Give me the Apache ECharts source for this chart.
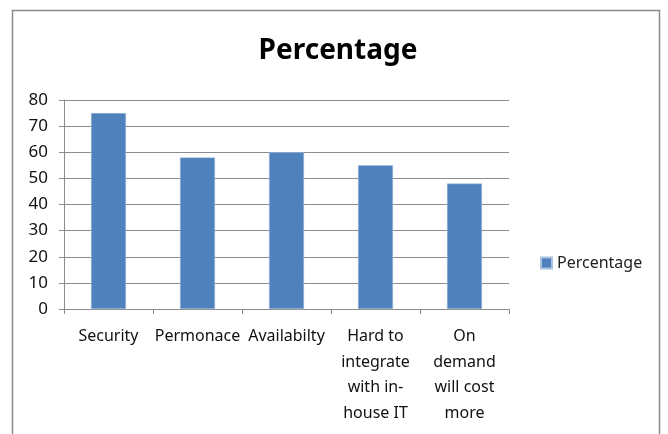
<!DOCTYPE html>
<html><head><meta charset="utf-8">
<script src="https://cdn.jsdelivr.net/npm/echarts@6/dist/echarts.min.js"></script>
<style>html,body{margin:0;padding:0;background:#fff}#c{width:668px;height:434px}</style>
</head><body><div id="c"></div>
<script>
const categories = ["Security", "Permonace", "Availabilty", "Hard to\nintegrate\nwith in-\nhouse IT", "On\ndemand\nwill cost\nmore"];
const percentage = [75, 58, 60, 55, 48];
const yTicks = [0, 10, 20, 30, 40, 50, 60, 70, 80];
const seriesName = "Percentage";
const titleText = "Percentage";

const chart = echarts.init(document.getElementById('c'), null, {renderer: 'canvas'});
const font = "'Noto Sans', sans-serif";
chart.setOption({
  animation: false,
  title: {text: titleText, left: 338, top: 37, padding: 0, textAlign: 'center',
    textStyle: {fontFamily: font, fontSize: 28, fontWeight: 'bold', color: '#000'}},
  graphic: [{type: 'rect', shape: {x: 12.5, y: 10.5, width: 647, height: 440},
    style: {fill: 'none', stroke: '#8a8a8a', lineWidth: 1.5}, silent: true}],
  legend: {data: [seriesName], left: 535, top: 250, itemWidth: 11, itemHeight: 11, itemGap: 4,
    icon: 'rect', textStyle: {fontFamily: font, fontSize: 16, color: '#222'}},
  grid: {left: 64, right: 159, top: 100, bottom: 125, containLabel: false},
  xAxis: {type: 'category', data: categories,
    axisLine: {lineStyle: {color: '#8c8c8c', width: 1}},
    axisTick: {show: true, length: 5, alignWithLabel: false, lineStyle: {color: '#8c8c8c'}},
    axisLabel: {interval: 0, fontFamily: font, fontSize: 16, color: '#111', lineHeight: 25.5, margin: 15}},
  yAxis: {type: 'value', min: yTicks[0], max: yTicks[yTicks.length - 1], interval: 10,
    axisLine: {show: true, lineStyle: {color: '#8c8c8c'}},
    axisTick: {show: true, length: 5, lineStyle: {color: '#8c8c8c'}},
    splitLine: {lineStyle: {color: '#8c8c8c', width: 1}},
    axisLabel: {fontFamily: font, fontSize: 17, color: '#111', margin: 16}},
  series: [{name: seriesName, type: 'bar', data: percentage, barWidth: 35,
    itemStyle: {color: '#4f81bd', borderColor: '#a9c1e0', borderWidth: 0.5}}]
});
</script></body></html>
